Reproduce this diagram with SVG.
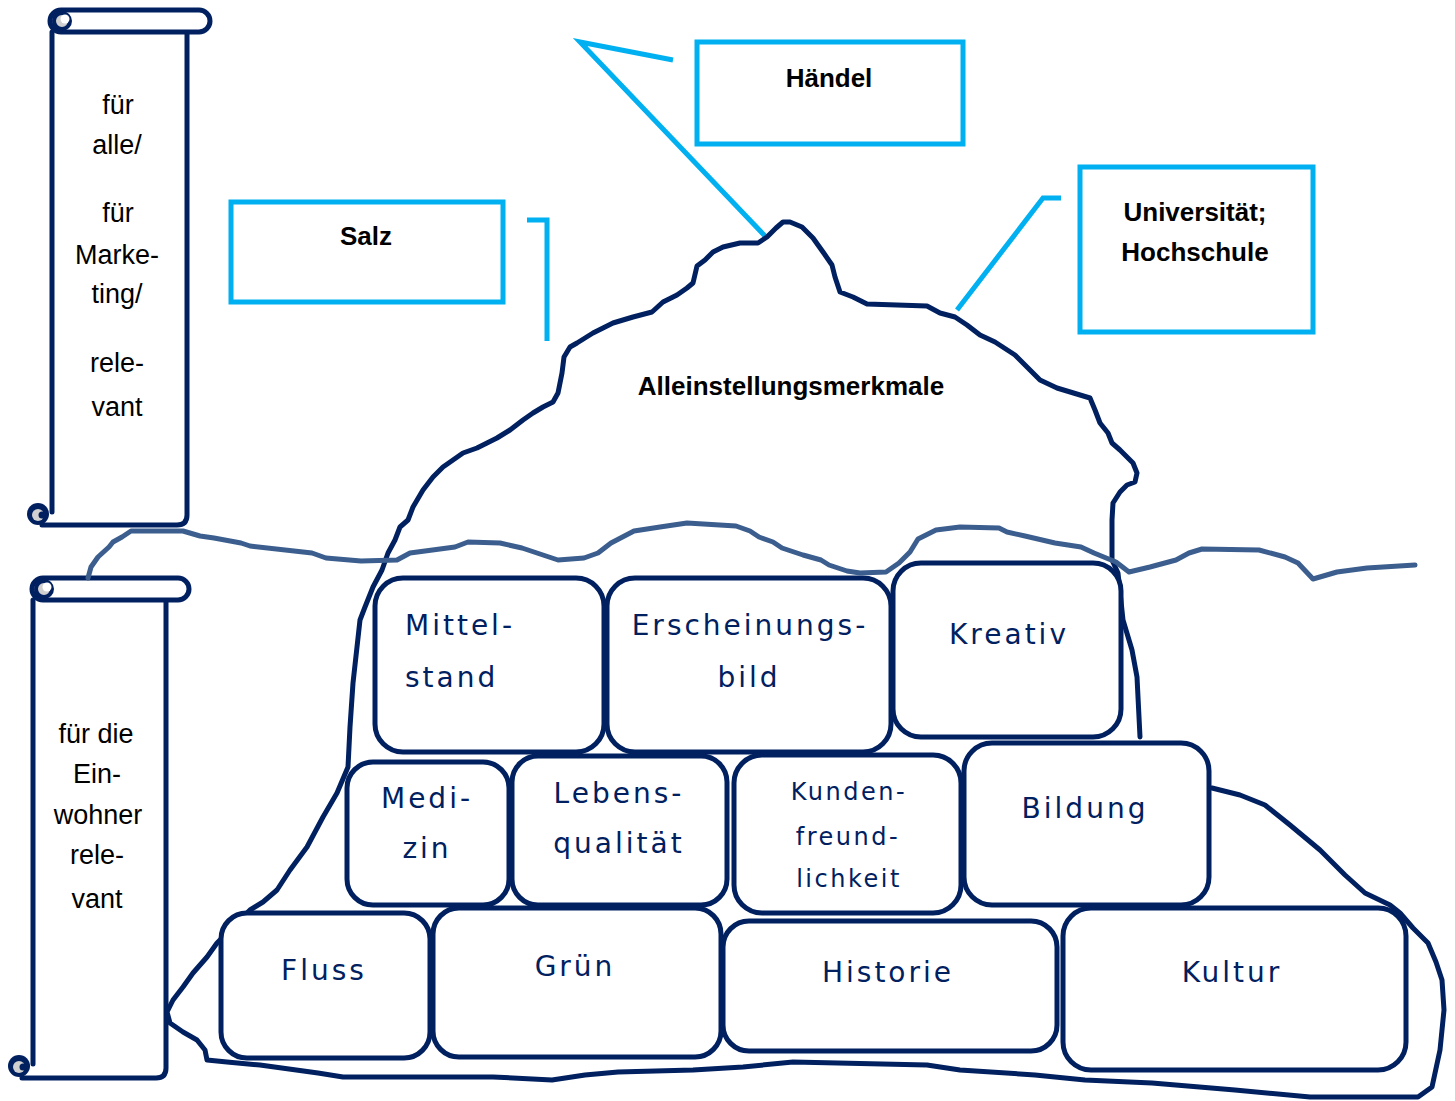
<svg xmlns="http://www.w3.org/2000/svg" width="1455" height="1101" viewBox="0 0 1455 1101">
<style>
.nv{fill:none;stroke:#002060;stroke-width:5;stroke-linejoin:round;stroke-linecap:round}
.box{fill:#fff;stroke:#002060;stroke-width:5}
.call{fill:#fff;stroke:#00B0F0;stroke-width:5}
.cl{fill:none;stroke:#00B0F0;stroke-width:5}
.water{fill:none;stroke:#3B5E8E;stroke-width:5;stroke-linejoin:round;stroke-linecap:round}
.curl{fill:#d0d0d0;stroke:#002060;stroke-width:4}
.st{font-family:"Liberation Sans",Arial,sans-serif;font-size:27px;fill:#000;text-anchor:middle}
.bt{font-family:"Liberation Sans",Arial,sans-serif;font-size:26px;font-weight:bold;fill:#000;text-anchor:middle}
.lt{font-family:"DejaVu Sans",sans-serif;font-size:28px;fill:#002060;letter-spacing:3px;text-anchor:middle}
.lts{font-family:"DejaVu Sans",sans-serif;font-size:24px;fill:#002060;letter-spacing:2.5px;text-anchor:middle}
</style>
<rect width="1455" height="1101" fill="#fff"/>

<g id="scroll-top">
<path class="nv" d="M52,32 V512 M42,525 H177 Q187,525 187,515 V32"/>
<rect x="50" y="10" width="160" height="22" rx="11" fill="#fff" stroke="#002060" stroke-width="5"/>
<circle class="curl" cx="62" cy="21" r="8"/><circle cx="65" cy="19" r="4.5" fill="#fff"/>
<circle cx="38" cy="514" r="11" fill="#002060"/><circle cx="38" cy="515" r="6" fill="#d0d0d0"/><circle cx="42" cy="515" r="3.5" fill="#002060"/>
<text class="st" x="118" y="114">für</text>
<text class="st" x="117" y="154">alle/</text>
<text class="st" x="118" y="222">für</text>
<text class="st" x="117" y="264">Marke-</text>
<text class="st" x="117" y="303">ting/</text>
<text class="st" x="117" y="372">rele-</text>
<text class="st" x="117" y="416">vant</text>
</g>

<g id="scroll-bottom">
<path class="nv" d="M33,600 V1064 M22,1078 H156 Q166,1078 166,1068 V600"/>
<rect x="32" y="578" width="157" height="22" rx="11" fill="#fff" stroke="#002060" stroke-width="5"/>
<circle class="curl" cx="44" cy="589" r="8"/><circle cx="47" cy="587" r="4.5" fill="#fff"/>
<circle cx="19" cy="1066" r="11" fill="#002060"/><circle cx="19" cy="1067" r="6" fill="#d0d0d0"/><circle cx="23" cy="1067" r="3.5" fill="#002060"/>
<text class="st" x="96" y="743">für die</text>
<text class="st" x="97" y="783">Ein-</text>
<text class="st" x="98" y="824">wohner</text>
<text class="st" x="97" y="864">rele-</text>
<text class="st" x="97" y="908">vant</text>
</g>

<g id="connectors">
<polyline class="cl" points="673,60 580,42 765,236"/>
<polyline class="cl" points="527,220 547,220 547,341"/>
<polyline class="cl" points="1061,198 1043,198 957,310"/>
</g>

<g id="haendel"><rect class="call" x="697" y="42" width="266" height="102"/><text class="bt" x="829" y="87">Händel</text></g>
<g id="salz"><rect class="call" x="231" y="202" width="272" height="100"/><text class="bt" x="366" y="245">Salz</text></g>
<g id="uni"><rect class="call" x="1080" y="167" width="233" height="165"/><text class="bt" x="1195" y="221">Universität;</text><text class="bt" x="1195" y="261">Hochschule</text></g>

<g id="iceberg">
<path class="nv" d="M1140,737 L1137,677 L1132,650 L1123,620 L1118,573 L1112,560 L1112,520 L1113,503 L1120,492 L1127,485 L1135,482 L1137,473 L1133,463 L1120,450 L1112,443 L1108,433 L1100,423 L1095,410 L1090,398 L1057,388 L1040,380 L1030,370 L1015,355 L995,342 L980,335 L967,325 L955,317 L940,313 L927,306 L867,304 L853,297 L840,292 L835,277 L832,265 L823,252 L813,238 L802,227 L790,222 L783,222 L776,228 L767,237 L758,243 L740,243 L723,247 L713,252 L705,260 L697,266 L693,283 L687,288 L677,295 L663,302 L652,312 L633,317 L613,323 L605,327 L593,333 L577,343 L570,347 L564,357 L562,373 L558,393 L553,402 L543,407 L533,413 L523,420 L510,430 L497,438 L487,443 L477,448 L463,453 L453,460 L443,467 L433,477 L423,490 L413,507 L408,520 L400,527 L395,540 L388,553 L382,570 L373,587 L365,607 L360,620 L357,647 L353,683 L350,727 L348,767 L337,793 L323,817 L307,847 L290,870 L277,890 L263,902 L250,910 L230,930 L217,943 L207,957 L193,973 L183,987 L173,1000 L167,1012 L170,1023 L183,1032 L197,1040 L205,1050 L207,1060 L227,1062 L260,1065 L318,1073 L343,1077 L493,1077 L552,1080 L585,1075 L618,1072 L693,1070 L743,1067 L793,1062 L927,1065 L960,1070 L1035,1075 L1085,1080 L1152,1083 L1235,1090 L1310,1097 L1418,1097 L1432,1087 L1440,1050 L1444,1010 L1442,980 L1436,962 L1428,943 L1413,928 L1400,913 L1390,905 L1365,893 L1345,875 L1320,850 L1290,825 L1265,805 L1240,795 L1212,788"/>
<text class="bt" x="791" y="395">Alleinstellungsmerkmale</text>
</g>

<g id="mittelstand"><rect class="box" x="375" y="578" width="229" height="174" rx="28"/><text class="lt" x="405" y="635" style="text-anchor:start">Mittel-</text><text class="lt" x="405" y="687" style="text-anchor:start">stand</text></g>
<g id="erscheinungsbild"><rect class="box" x="607" y="578" width="284" height="174" rx="28"/><text class="lt" x="750" y="635">Erscheinungs-</text><text class="lt" x="749" y="687">bild</text></g>
<g id="kreativ"><rect class="box" x="893" y="563" width="228" height="174" rx="28"/><text class="lt" x="1009" y="644">Kreativ</text></g>
<g id="medizin"><rect class="box" x="347" y="762" width="162" height="143" rx="26"/><text class="lt" x="427" y="808">Medi-</text><text class="lt" x="427" y="858">zin</text></g>
<g id="lebensqualitaet"><rect class="box" x="512" y="756" width="215" height="149" rx="26"/><text class="lt" x="619" y="803">Lebens-</text><text class="lt" x="619" y="853">qualität</text></g>
<g id="kundenfreundlichkeit"><rect class="box" x="734" y="755" width="227" height="158" rx="28"/><text class="lts" x="849" y="800">Kunden-</text><text class="lts" x="848" y="845">freund-</text><text class="lts" x="849" y="887">lichkeit</text></g>
<g id="bildung"><rect class="box" x="964" y="743" width="245" height="162" rx="28"/><text class="lt" x="1085" y="818">Bildung</text></g>
<g id="fluss"><rect class="box" x="221" y="913" width="209" height="145" rx="26"/><text class="lt" x="324" y="980">Fluss</text></g>
<g id="gruen"><rect class="box" x="433" y="908" width="288" height="149" rx="26"/><text class="lt" x="575" y="976">Grün</text></g>
<g id="historie"><rect class="box" x="723" y="921" width="334" height="130" rx="26"/><text class="lt" x="888" y="982">Historie</text></g>
<g id="kultur"><rect class="box" x="1063" y="908" width="343" height="162" rx="28"/><text class="lt" x="1232" y="982">Kultur</text></g>

<g id="waterline">
<path class="water" d="M88,578 L91,567 L98,557 L109,547 L113,542 L122,537 L131,531 L183,531 L200,536 L214,538 L241,543 L250,546 L312,553 L326,558 L361,561 L397,560 L410,553 L455,547 L468,542 L500,543 L522,548 L558,560 L584,558 L598,553 L611,543 L634,531 L660,527 L687,523 L736,526 L750,531 L759,537 L773,542 L782,548 L803,555 L821,560 L829,565 L847,571 L860,573 L886,572 L899,563 L910,552 L918,539 L936,530 L960,527 L999,528 L1007,532 L1025,536 L1055,543 L1081,547 L1094,553 L1116,562 L1129,572 L1150,567 L1176,560 L1189,553 L1202,549 L1259,550 L1285,557 L1298,563 L1313,579 L1337,572 L1367,568 L1415,565"/>
</g>
</svg>
